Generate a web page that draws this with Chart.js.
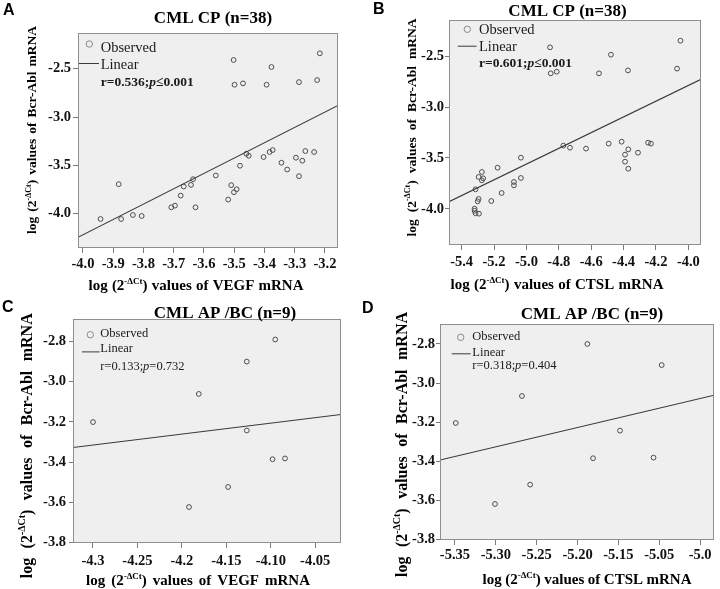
<!DOCTYPE html>
<html>
<head>
<meta charset="utf-8">
<script src="https://cdn.jsdelivr.net/npm/chart.js@4.4.1/dist/chart.umd.min.js"></script>
<style>
  html, body { margin: 0; padding: 0; background: #fff; }
  #wrap { position: relative; width: 720px; height: 589px; overflow: hidden; }
  canvas { position: absolute; }
</style>
</head>
<body>
<div id="wrap">
  <canvas id="chartA" width="360" height="300" style="left:0;top:0"></canvas>
  <canvas id="chartB" width="360" height="300" style="left:360px;top:0"></canvas>
  <canvas id="chartC" width="360" height="289" style="left:0;top:300px"></canvas>
  <canvas id="chartD" width="360" height="289" style="left:360px;top:300px"></canvas>
</div>
<script>
// ---- A: CML CP (n=38), VEGF vs Bcr-Abl ----
var vegfCP = [-3.942, -3.882, -3.874, -3.835, -3.806, -3.708, -3.696, -3.677, -3.667, -3.643,
  -3.636, -3.628, -3.561, -3.520, -3.510, -3.501, -3.492, -3.481, -3.460, -3.452,
  -3.403, -3.383, -3.373, -3.344, -3.325, -3.296, -3.286, -3.275, -3.265, -3.236,
  -3.502, -3.499, -3.471, -3.393, -3.377, -3.286, -3.226, -3.217];
var bcrAblA = [-4.055, -3.695, -4.055, -4.014, -4.024, -3.934, -3.917, -3.813, -3.719, -3.702,
  -3.643, -3.934, -3.605, -3.854, -3.705, -3.778, -3.747, -3.504, -3.380, -3.401,
  -3.414, -3.362, -3.342, -3.473, -3.543, -3.421, -3.612, -3.452, -3.352, -3.362,
  -2.410, -2.666, -2.652, -2.666, -2.483, -2.639, -2.618, -2.341];
var fitAx = [-4.0165, -3.157];
var fitAy = [-4.245, -2.880];

// ---- B: CML CP (n=38), CTSL vs Bcr-Abl ----
var ctslCP = [-4.854, -4.850, -4.813, -4.552, -4.478, -4.373, -4.049, -4.070, -4.772, -4.731,
  -4.632, -4.492, -4.412, -4.371, -4.391, -4.391, -4.371, -4.311, -4.249, -4.231,
  -5.034, -5.178, -5.275, -5.295, -5.267, -5.275, -5.077, -5.034, -5.077, -5.314,
  -5.153, -5.295, -5.301, -5.217, -5.320, -5.320, -5.314, -5.293];
var bcrAblB = [-2.415, -2.670, -2.654, -2.670, -2.487, -2.641, -2.350, -2.624, -3.379, -3.399,
  -3.408, -3.359, -3.340, -3.415, -3.467, -3.536, -3.605, -3.448, -3.350, -3.359,
  -3.497, -3.595, -3.637, -3.686, -3.699, -3.719, -3.735, -3.696, -3.768, -3.807,
  -3.843, -3.902, -3.925, -3.922, -3.997, -4.017, -4.042, -4.046];
var fitBx = [-5.478, -3.922];
var fitBy = [-3.928, -2.729];

// ---- C: CML AP/BC (n=9), VEGF vs Bcr-Abl ----
var vegfAP = [-4.300, -4.181, -4.192, -4.148, -4.127, -4.127, -4.095, -4.098, -4.084];
var bcrAblC = [-3.201, -3.061, -3.624, -3.524, -2.900, -3.243, -2.790, -3.386, -3.382];
var fitCx = [-4.3225, -4.021];
var fitCy = [-3.328, -3.163];

// ---- D: CML AP/BC (n=9), CTSL vs Bcr-Abl ----
var ctslAP = [-5.349, -5.301, -5.268, -5.258, -5.188, -5.181, -5.148, -5.107, -5.097];
var bcrAblD = [-3.204, -3.618, -3.066, -3.519, -2.800, -3.384, -3.243, -3.381, -2.908];
var fitDx = [-5.3683, -5.033];
var fitDy = [-3.393, -3.062];

// tick values and labels
var xTicksA = [-4.0, -3.9, -3.8, -3.7, -3.6, -3.5, -3.4, -3.3, -3.2];
var xLabelsA = ['-4.0', '-3.9', '-3.8', '-3.7', '-3.6', '-3.5', '-3.4', '-3.3', '-3.2'];
var xTicksB = [-5.4, -5.2, -5.0, -4.8, -4.6, -4.4, -4.2, -4.0];
var xLabelsB = ['-5.4', '-5.2', '-5.0', '-4.8', '-4.6', '-4.4', '-4.2', '-4.0'];
var yTicksCP = [-4.0, -3.5, -3.0, -2.5];
var yLabelsCP = ['-4.0', '-3.5', '-3.0', '-2.5'];
var xTicksC = [-4.3, -4.25, -4.2, -4.15, -4.1, -4.05];
var xLabelsC = ['-4.3', '-4.25', '-4.2', '-4.15', '-4.10', '-4.05'];
var xTicksD = [-5.35, -5.30, -5.25, -5.20, -5.15, -5.10, -5.05];
var xLabelsD = ['-5.35', '-5.30', '-5.25', '-5.20', '-5.15', '-5.05', '-5.0'];
var yTicksAP = [-3.8, -3.6, -3.4, -3.2, -3.0, -2.8];
var yLabelsAP = ['-3.8', '-3.6', '-3.4', '-3.2', '-3.0', '-2.8'];

var SERIF = "'Liberation Serif', 'Times New Roman', serif";
var SANS = "'Liberation Sans', Arial, sans-serif";

function axisTokens(gene) {
  return [{t: 'log'}, {t: '(2'}, {t: '-\u0394Ct', sup: true, join: true}, {t: ')', join: true},
    {t: 'values'}, {t: 'of'}].concat(gene.split(' ').map(function (w) { return {t: w}; }));
}

// draw a spaced title centred on (cx, cy), stretched to width w
function drawTokens(ctx, tokens, cx, cy, size, w) {
  var big = 'bold ' + size + 'px ' + SERIF;
  var small = 'bold ' + Math.round(size * 0.62) + 'px ' + SERIF;
  var widths = tokens.map(function (tk) {
    ctx.font = tk.sup ? small : big;
    return ctx.measureText(tk.t).width;
  });
  var total = widths.reduce(function (a, b) { return a + b; }, 0);
  var gaps = tokens.filter(function (tk, i) { return i > 0 && !tk.join; }).length;
  var gap = Math.max(3.5, (w - total) / gaps);
  var x = cx - (total + gap * gaps) / 2;
  ctx.textAlign = 'left';
  ctx.textBaseline = 'alphabetic';
  tokens.forEach(function (tk, i) {
    if (i > 0 && !tk.join) x += gap;
    ctx.font = tk.sup ? small : big;
    ctx.fillText(tk.t, x, cy + size * 0.33 - (tk.sup ? size * 0.42 : 0));
    x += widths[i];
  });
}

function drawRun(ctx, parts, x, cy, size, bold) {
  ctx.textAlign = 'left';
  ctx.textBaseline = 'middle';
  parts.forEach(function (pt) {
    ctx.font = (pt.it ? 'italic ' : '') + (bold ? 'bold ' : '') + size + 'px ' + SERIF;
    ctx.fillText(pt.t, x, cy);
    x += ctx.measureText(pt.t).width;
  });
}

function decor(p) {
  return {
    id: 'decor',
    beforeDraw: function (chart) {
      var a = chart.chartArea, ctx = chart.ctx;
      ctx.save();
      ctx.fillStyle = '#efefef';
      ctx.fillRect(a.left, a.top, a.right - a.left, a.bottom - a.top);
      ctx.restore();
    },
    afterDraw: function (chart) {
      var a = chart.chartArea, ctx = chart.ctx, L = p.legend;
      ctx.save();
      ctx.strokeStyle = '#8f8f8f';
      ctx.lineWidth = 1;
      ctx.strokeRect(a.left + 0.5, a.top + 0.5, a.right - a.left - 1, a.bottom - a.top - 1);

      ctx.fillStyle = '#000';
      ctx.font = 'bold 16px ' + SANS;
      ctx.textAlign = 'left';
      ctx.textBaseline = 'alphabetic';
      ctx.fillText(p.letter, p.letterPos[0], p.letterPos[1]);

      ctx.font = 'bold 17px ' + SERIF;
      ctx.textAlign = 'center';
      ctx.textBaseline = 'middle';
      ctx.fillText(p.title, p.titlePos[0], p.titlePos[1]);

      drawTokens(ctx, axisTokens(p.xGene), p.xTitle[0], p.xTitle[1], p.xTitle[3], p.xTitle[2]);
      ctx.save();
      ctx.translate(p.yTitle[0], p.yTitle[1]);
      ctx.rotate(-Math.PI / 2);
      drawTokens(ctx, axisTokens('Bcr-Abl mRNA'), 0, 0, p.yTitle[3], p.yTitle[2]);
      ctx.restore();

      // legend inside the plot
      var lx = a.left, ly = a.top;
      ctx.strokeStyle = '#8a8a8a';
      ctx.beginPath();
      ctx.arc(lx + L.circle[0], ly + L.circle[1], 3.2, 0, Math.PI * 2);
      ctx.stroke();
      ctx.strokeStyle = '#3a3a3a';
      ctx.beginPath();
      ctx.moveTo(lx + L.line[0], ly + L.line[2] + 0.5);
      ctx.lineTo(lx + L.line[1], ly + L.line[2] + 0.5);
      ctx.stroke();
      ctx.fillStyle = '#1a1a1a';
      drawRun(ctx, [{t: 'Observed'}], lx + L.textX, ly + L.rows[0], L.size, false);
      drawRun(ctx, [{t: 'Linear'}], lx + L.textX, ly + L.rows[1], L.size, false);
      drawRun(ctx, p.stat, lx + L.textX, ly + L.rows[2], L.statSize, L.statBold);
      ctx.restore();
    }
  };
}

function axis(range, ticks, labels, tickLen, pad, fixSize, horizontal) {
  return {
    type: 'linear',
    position: horizontal ? 'bottom' : 'left',
    min: range[0],
    max: range[1],
    bounds: 'data',
    afterBuildTicks: function (s) { s.ticks = ticks.map(function (v) { return {value: v}; }); },
    afterFit: function (s) { if (horizontal) { s.height = fixSize; } else { s.width = fixSize; } },
    grid: { display: true, drawOnChartArea: false, drawTicks: true, tickLength: tickLen, color: '#7a7a7a', lineWidth: 1 },
    border: { display: false },
    ticks: {
      autoSkip: false, maxRotation: 0, minRotation: 0, padding: pad,
      color: '#111',
      font: { family: SERIF, size: 14.5, weight: 'bold' },
      callback: function (v, i) { return labels[i]; }
    }
  };
}

function buildChart(id, p) {
  var canvas = document.getElementById(id);
  var W = canvas.width, H = canvas.height;
  var pts = p.x.map(function (v, i) { return {x: v, y: p.y[i]}; });
  var fit = p.fitX.map(function (v, i) { return {x: v, y: p.fitY[i]}; });
  return new Chart(canvas, {
    type: 'scatter',
    data: {
      datasets: [
        { label: 'Linear', data: fit, showLine: true, pointRadius: 0, borderColor: '#3a3a3a', borderWidth: 1.1, fill: false },
        { label: 'Observed', data: pts, pointStyle: 'circle', pointRadius: 2.4, pointHoverRadius: 2.4,
          borderColor: '#4d4d4d', backgroundColor: 'rgba(0,0,0,0)', borderWidth: 1 }
      ]
    },
    options: {
      responsive: false,
      animation: false,
      devicePixelRatio: 1,
      layout: { padding: { left: 0, top: p.area.top, right: W - p.area.right, bottom: 0 } },
      plugins: { legend: { display: false }, tooltip: { enabled: false } },
      scales: {
        x: axis(p.xRange, p.xTicks, p.xLabels, p.xTickLen, p.xPad, H - p.area.bottom, true),
        y: axis(p.yRange, p.yTicks, p.yLabels, p.yTickLen, p.yPad, p.area.left, false)
      }
    },
    plugins: [decor(p)]
  });
}

var legendBig = { circle: [11.3, 11], line: [1, 21, 30], textX: 22.7, rows: [15, 32.5, 50], size: 14.5, statSize: 13.5, statBold: true };
var legendBigB = { circle: [18.3, 9.3], line: [8.7, 27.7, 25.7], textX: 30, rows: [10, 27.3, 44], size: 14.5, statSize: 13.5, statBold: true };

buildChart('chartA', {
  x: vegfCP, y: bcrAblA, fitX: fitAx, fitY: fitAy,
  area: { left: 78, top: 33, right: 338, bottom: 248 },
  xRange: [-4.0165, -3.157], yRange: [-4.355, -2.131],
  xTicks: xTicksA, xLabels: xLabelsA, yTicks: yTicksCP, yLabels: yLabelsCP,
  xTickLen: 5, xPad: 3, yTickLen: 5, yPad: 2,
  letter: 'A', letterPos: [3, 15], title: 'CML CP (n=38)', titlePos: [213, 18.5],
  xGene: 'VEGF mRNA', xTitle: [196, 285, 215, 15], yTitle: [32, 130, 208, 13.5],
  legend: legendBig,
  stat: [{t: 'r=0.536;'}, {t: 'p', it: true}, {t: '\u22640.001'}]
});

buildChart('chartB', {
  x: ctslCP, y: bcrAblB, fitX: fitBx, fitY: fitBy,
  area: { left: 89, top: 20, right: 341, bottom: 245 },
  xRange: [-5.478, -3.922], yRange: [-4.353, -2.147],
  xTicks: xTicksB, xLabels: xLabelsB, yTicks: yTicksCP, yLabels: yLabelsCP,
  xTickLen: 5, xPad: 4, yTickLen: 4, yPad: 1,
  letter: 'B', letterPos: [13, 13.5], title: 'CML CP (n=38)', titlePos: [207.5, 12],
  xGene: 'CTSL mRNA', xTitle: [197, 284, 213, 15], yTitle: [51.7, 127.5, 218, 13.5],
  legend: legendBigB,
  stat: [{t: 'r=0.601;'}, {t: 'p', it: true}, {t: '\u22640.001'}]
});

buildChart('chartC', {
  x: vegfAP, y: bcrAblC, fitX: fitCx, fitY: fitCy,
  area: { left: 73, top: 19, right: 341, bottom: 243 },
  xRange: [-4.3225, -4.021], yRange: [-3.803, -2.688],
  xTicks: xTicksC, xLabels: xLabelsC, yTicks: yTicksAP, yLabels: yLabelsAP,
  xTickLen: 5, xPad: 5, yTickLen: 4, yPad: 3,
  letter: 'C', letterPos: [2, 11.7], title: 'CML AP /BC (n=9)', titlePos: [225, 13.7],
  xGene: 'VEGF mRNA', xTitle: [198, 280, 224, 15], yTitle: [26.7, 145.8, 265, 16],
  legend: { circle: [17.3, 15.7], line: [9, 26.6, 32.4], textX: 27.3, rows: [15, 29.7, 48], size: 12.5, statSize: 12.5, statBold: false },
  stat: [{t: 'r=0.133;'}, {t: 'p', it: true}, {t: '=0.732'}]
});

buildChart('chartD', {
  x: ctslAP, y: bcrAblD, fitX: fitDx, fitY: fitDy,
  area: { left: 80, top: 24, right: 354, bottom: 240 },
  xRange: [-5.3683, -5.033], yRange: [-3.802, -2.698],
  xTicks: xTicksD, xLabels: xLabelsD, yTicks: yTicksAP, yLabels: yLabelsAP,
  xTickLen: 5, xPad: 2, yTickLen: 4, yPad: 1,
  letter: 'D', letterPos: [2, 13], title: 'CML AP /BC (n=9)', titlePos: [232, 15],
  xGene: 'CTSL mRNA', xTitle: [227, 279, 202, 15], yTitle: [41.7, 144.5, 265, 16],
  legend: { circle: [20.7, 13.3], line: [11.7, 30.7, 29.3], textX: 32.3, rows: [12.7, 28.3, 42], size: 12.5, statSize: 12.5, statBold: false },
  stat: [{t: 'r=0.318;'}, {t: 'p', it: true}, {t: '=0.404'}]
});
</script>
</body>
</html>
